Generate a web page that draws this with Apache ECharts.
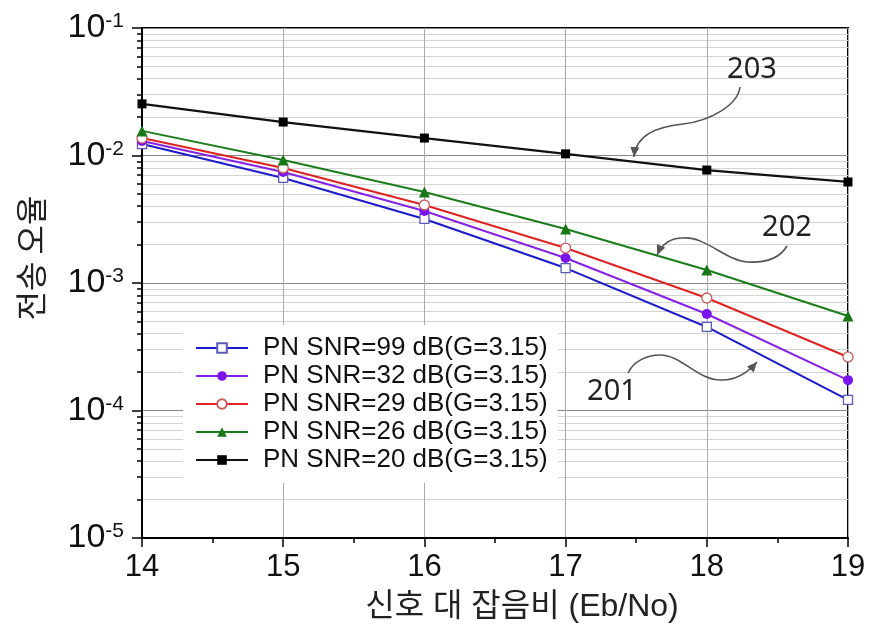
<!DOCTYPE html>
<html>
<head>
<meta charset="utf-8">
<script src="https://cdn.jsdelivr.net/npm/echarts@6/dist/echarts.min.js"></script>
<style>
html,body{margin:0;padding:0;background:#fff;}
#main{width:873px;height:632px;}
</style>
</head>
<body>
<div id="main"></div>
<script>
// 데이터
var ebno = [14, 15, 16, 17, 18, 19];
var names = ['PN SNR=99 dB(G=3.15)', 'PN SNR=32 dB(G=3.15)', 'PN SNR=29 dB(G=3.15)', 'PN SNR=26 dB(G=3.15)', 'PN SNR=20 dB(G=3.15)'];
var snr99 = [0.0123, 0.00667, 0.00318, 0.00131, 0.000452, 0.000121];
var snr32 = [0.0130, 0.00743, 0.00367, 0.00157, 0.000571, 0.000173];
var snr29 = [0.0137, 0.00798, 0.00409, 0.00188, 0.000763, 0.000263];
var snr26 = [0.0156, 0.00922, 0.00517, 0.00265, 0.001265, 0.000551];
var snr20 = [0.0254, 0.0183, 0.0137, 0.0103, 0.00769, 0.00620];
var yExps = [-5, -4, -3, -2, -1];
var minorMul = [2, 3, 4, 5, 6, 7, 8, 9];

// 보조 눈금 (log 공간 값)
var minorLog = [];
for (var i = 0; i < yExps.length - 1; i++) {
	for (var j = 0; j < minorMul.length; j++) {
		minorLog.push(yExps[i] + Math.log10(minorMul[j]));
	}
}

function pairs(arr) {
	return ebno.map(function (x, i) { return [x, arr[i]]; });
}

function arrowHead(tip, from) {
	var dx = tip[0] - from[0], dy = tip[1] - from[1];
	var len = Math.sqrt(dx * dx + dy * dy);
	var ux = dx / len, uy = dy / len, L = 10, W = 4.5;
	var bx = tip[0] - ux * L, by = tip[1] - uy * L;
	return [tip, [bx - uy * W, by + ux * W], [bx + uy * W, by - ux * W]];
}

// 주석 화살표 (곡선)
var curves = [
	[[740, 87, 738, 105, 710, 121, 683, 124], [683, 124, 656, 127, 636, 135, 634, 157]],
	[[787, 246, 780, 258, 765, 263, 747, 262], [747, 262, 725, 260, 705, 236, 683, 238], [683, 238, 668, 238, 661, 246, 657, 255]],
	[[628, 373, 633, 362, 646, 355, 660, 355], [660, 355, 682, 355, 698, 381, 722, 380], [722, 380, 738, 380, 750, 370, 757, 362]]
];
var labels = [['203', 752, 70], ['202', 787, 228], ['201', 612, 392]];

var graphics = [];
curves.forEach(function (segs) {
	segs.forEach(function (s) {
		graphics.push({
			type: 'bezierCurve', silent: true, z: 50,
			shape: {x1: s[0], y1: s[1], cpx1: s[2], cpy1: s[3], cpx2: s[4], cpy2: s[5], x2: s[6], y2: s[7]},
			style: {stroke: '#555', lineWidth: 1.6, fill: null}
		});
	});
	var last = segs[segs.length - 1];
	graphics.push({
		type: 'polygon', silent: true, z: 50,
		shape: {points: arrowHead([last[6], last[7]], [last[4], last[5]])},
		style: {fill: '#555'}
	});
});
labels.forEach(function (l) {
	graphics.push({
		type: 'text', silent: true, z: 50, x: l[1], y: l[2],
		style: {text: l[0], fontSize: 29, fontFamily: 'Noto Sans', fill: '#222', align: 'center', verticalAlign: 'middle'}
	});
});

var lineFont = 'Liberation Sans';

var myChart = echarts.init(document.getElementById('main'));
var option = {
	animation: false,
	backgroundColor: '#fff',
	grid: {
		left: 142, right: 25, top: 28, bottom: 94,
		show: true, borderColor: '#000', borderWidth: 2, backgroundColor: 'transparent'
	},
	legend: {
		orient: 'vertical', left: 183, top: 325,
		itemWidth: 52, itemHeight: 12, itemGap: 2,
		padding: [10, 10, 10, 12],
		backgroundColor: '#fff',
		textStyle: {fontSize: 26, fontFamily: lineFont, color: '#111', padding: [0, 0, 0, 10]},
		data: names
	},
	xAxis: {
		type: 'value', min: 14, max: 19, interval: 1,
		name: '신호 대 잡음비 (Eb/No)', nameLocation: 'middle', nameGap: 53,
		nameTextStyle: {fontSize: 32, fontFamily: 'Liberation Sans, Noto Sans CJK KR', color: '#222', padding: [0, 0, 0, 54]},
		axisLine: {lineStyle: {color: '#000', width: 2}},
		axisTick: {length: 9, lineStyle: {color: '#000', width: 1.5}},
		minorTick: {show: true, splitNumber: 2, length: 5, lineStyle: {color: '#000', width: 1.5}},
		axisLabel: {fontSize: 31, fontFamily: lineFont, color: '#111', margin: 14},
		splitLine: {show: true, lineStyle: {color: '#aaa', width: 1}}
	},
	yAxis: [{
		type: 'log', logBase: 10, min: 1e-5, max: 1e-1,
		name: '전송 오율', nameLocation: 'middle', nameGap: 95,
		nameTextStyle: {fontSize: 32, fontFamily: 'Noto Sans CJK KR', color: '#222', padding: [0, 0, 0, 50]},
		axisLine: {lineStyle: {color: '#000', width: 2}},
		axisTick: {length: 10, lineStyle: {color: '#000', width: 1.5}},
		axisLabel: {
			margin: 18,
			formatter: function (v) {
				return '{a|10}{b|' + Math.round(Math.log10(v)) + '}';
			},
			rich: {
				a: {fontSize: 34, fontFamily: lineFont, color: '#111', verticalAlign: 'bottom'},
				b: {fontSize: 21, fontFamily: lineFont, color: '#111', verticalAlign: 'top'}
			}
		},
		splitLine: {show: true, lineStyle: {color: '#888', width: 1}}
	}, {
		type: 'value', min: -5, max: -1, position: 'left',
		axisLine: {show: false},
		axisTick: {show: true, customValues: minorLog, length: 5, lineStyle: {color: '#000', width: 1.5}},
		axisLabel: {show: false},
		splitLine: {show: true, lineStyle: {color: '#d4d4d4', width: 1}}
	}],
	series: [{
		name: names[0], type: 'line', data: pairs(snr99),
		symbol: 'rect', symbolSize: 9,
		lineStyle: {color: '#1c1ccc', width: 2},
		itemStyle: {color: '#fff', borderColor: '#5a5ab8', borderWidth: 1.3}
	}, {
		name: names[1], type: 'line', data: pairs(snr32),
		symbol: 'circle', symbolSize: 10,
		lineStyle: {color: '#8522e6', width: 2},
		itemStyle: {color: '#7a14ee'}
	}, {
		name: names[2], type: 'line', data: pairs(snr29),
		symbol: 'circle', symbolSize: 10,
		lineStyle: {color: '#e02222', width: 2},
		itemStyle: {color: '#fff', borderColor: '#cc5a5a', borderWidth: 1.3}
	}, {
		name: names[3], type: 'line', data: pairs(snr26),
		symbol: 'triangle', symbolSize: 11,
		lineStyle: {color: '#1b7d1b', width: 2},
		itemStyle: {color: '#187818'}
	}, {
		name: names[4], type: 'line', data: pairs(snr20),
		symbol: 'rect', symbolSize: 9,
		lineStyle: {color: '#111', width: 2.2},
		itemStyle: {color: '#000'}
	}],
	graphic: graphics
};
myChart.setOption(option);
</script>
</body>
</html>
